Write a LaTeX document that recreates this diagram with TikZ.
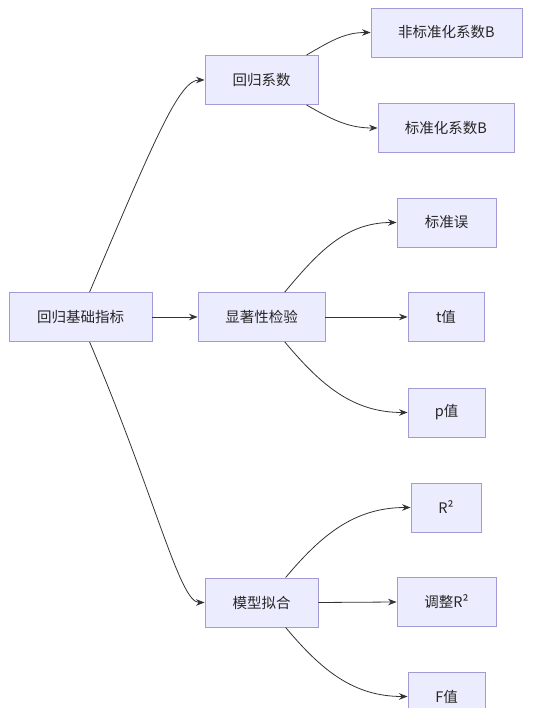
\documentclass[tikz,border=0pt]{standalone}
\usepackage{fontspec}
\setmainfont{Noto Sans CJK SC}
\usetikzlibrary{positioning,arrows.meta}
\definecolor{relleno}{HTML}{ECECFF}
\definecolor{borde}{HTML}{A39BD6}
\definecolor{linea}{HTML}{333333}

\begin{document}
\begin{tikzpicture}[x=1pt,y=1pt,
    caja/.style={draw=borde,fill=relleno,line width=0.9pt,minimum height=49pt,inner sep=0pt,font=\fontsize{14.5}{17}\selectfont,text=black!85},
    flecha/.style={-{Stealth[length=8.5pt,width=6.5pt]},linea,line width=0.8pt}]
    \useasboundingbox (0,0) rectangle (541,708);
    % nivel 0 y 1
    \node[caja,minimum width=143pt] (raiz) at (80.5,391) {回归基础指标};
    \node[caja,minimum width=113pt] (coef) at (261.5,628) {回归系数};
    \node[caja,minimum width=127pt] (sig) at (261.5,391) {显著性检验};
    \node[caja,minimum width=113pt] (ajuste) at (261.5,105.5) {模型拟合};
    % nivel 2
    \node[caja,minimum width=151pt] (nob) at (446.5,675.5) {非标准化系数B};
    \node[caja,minimum width=136pt] (stb) at (446,580) {标准化系数B};
    \node[caja,minimum width=99pt] (se) at (446.5,485.5) {标准误};
    \node[caja,minimum width=76pt] (tv) at (446,391) {t值};
    \node[caja,minimum width=77pt] (pv) at (446.5,295.5) {p值};
    \node[caja,minimum width=70pt] (rdos) at (446,200.5) {R²};
    \node[caja,minimum width=99pt] (radj) at (446.5,106) {调整R²};
    \node[caja,minimum width=77pt] (fv) at (446.5,11.5) {F值};
    % conexiones
    \draw[flecha] (raiz.70) .. controls +(67:170) and +(-25,0) .. (coef.west);
    \draw[flecha] (raiz.east) -- (sig.west);
    \draw[flecha] (raiz.-70) .. controls +(-67:170) and +(-25,0) .. (ajuste.west);
    \draw[flecha] (coef.29) to[out=30,in=180] (nob.west);
    \draw[flecha] (coef.-29) to[out=-30,in=180] (stb.west);
    \draw[flecha] (sig.47) to[out=50,in=180] (se.west);
    \draw[flecha] (sig.east) -- (tv.west);
    \draw[flecha] (sig.-47) to[out=-50,in=180] (pv.west);
    \draw[flecha] (ajuste.46) to[out=50,in=180] (rdos.west);
    \draw[flecha] (ajuste.east) -- (radj.west);
    \draw[flecha] (ajuste.-46) to[out=-50,in=180] (fv.west);
\end{tikzpicture}
\end{document}
